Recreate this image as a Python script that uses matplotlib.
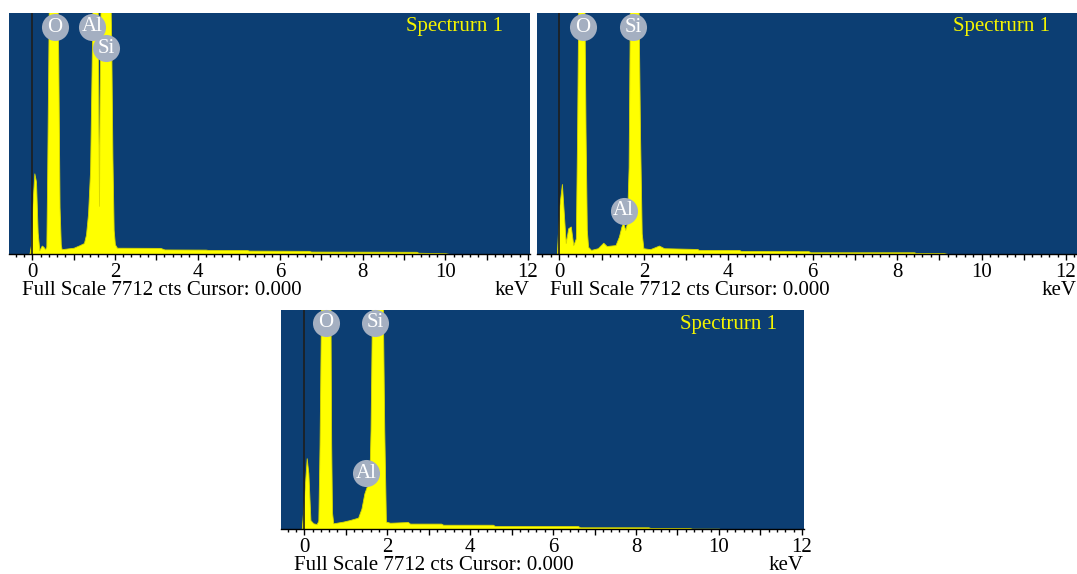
import matplotlib
matplotlib.use('Agg')
import matplotlib.pyplot as plt
from matplotlib.ticker import MultipleLocator, FuncFormatter

plt.rcParams['font.family'] = ['Liberation Serif', 'DejaVu Serif']

FULL_SCALE = 7712

# spectrum 1 (top left): energy (keV) and counts
e1 = [-0.07, -0.03, 0.0, 0.05, 0.09, 0.13, 0.17, 0.23, 0.27, 0.31, 0.34, 0.36, 0.40, 0.44, 0.52,
      0.60, 0.63, 0.66, 0.69, 0.71, 1.0, 1.15, 1.25, 1.30, 1.35, 1.40, 1.43, 1.46, 1.50, 1.58,
      1.60, 1.615, 1.63, 1.66, 1.75, 1.88, 1.91, 1.94, 1.97, 2.0, 2.05, 2.15, 3.1, 3.2, 4.2,
      4.25, 5.2, 5.25, 6.7, 6.75, 9.3, 9.35, 10.0, 10.1, 12.05]
c1 = [0, 300, 1500, 2580, 2310, 690, 120, 270, 230, 150, 230, 2500, 8000, 9500, 11000,
      9500, 6000, 1500, 300, 155, 200, 285, 350, 620, 1300, 2700, 5400, 8100, 9000, 8500,
      4000, 1540, 5000, 9000, 12000, 9000, 6900, 3100, 770, 310, 200, 200, 195, 145, 140,
      130, 125, 108, 100, 77, 70, 40, 25, 0, 0]

# spectrum 2 (top right)
e2 = [-0.06, 0.0, 0.06, 0.11, 0.15, 0.21, 0.27, 0.33, 0.39, 0.42, 0.45, 0.52, 0.59, 0.62, 0.65,
      0.68, 0.75, 0.91, 1.04, 1.12, 1.33, 1.41, 1.47, 1.51, 1.56, 1.60, 1.64, 1.67, 1.76, 1.87,
      1.91, 1.95, 1.99, 2.15, 2.36, 2.48, 3.27, 3.3, 4.26, 4.3, 5.9, 5.95, 8.4, 8.45, 9.1,
      9.2, 12.3]
c2 = [0, 1540, 2240, 1200, 350, 825, 880, 285, 500, 3900, 8500, 11000, 8500, 3900, 770,
      230, 130, 185, 360, 255, 285, 555, 880, 1000, 770, 980, 2780, 8000, 12000, 8500,
      3860, 660, 185, 155, 270, 185, 160, 130, 130, 95, 90, 55, 55, 30, 30,
      0, 0]

# spectrum 3 (bottom)
e3 = [-0.06, -0.02, 0.06, 0.10, 0.15, 0.22, 0.30, 0.34, 0.37, 0.41, 0.52, 0.63, 0.65, 0.67, 0.70,
      0.94, 1.10, 1.30, 1.38, 1.45, 1.50, 1.57, 1.60, 1.64, 1.76, 1.89, 1.93, 1.97, 2.07, 2.5,
      2.55, 3.3, 3.35, 4.55, 4.6, 6.6, 6.65, 8.3, 8.35, 9.3, 9.35, 10.0, 10.05, 12.04]
c3 = [0, 770, 2500, 1970, 320, 210, 185, 300, 3000, 8500, 11000, 8500, 3000, 600, 210,
      270, 325, 410, 730, 1260, 1470, 1700, 3500, 8500, 12000, 8500, 3500, 270, 230, 255,
      200, 200, 160, 160, 115, 115, 70, 70, 46, 46, 23, 23, 0, 0]

# element markers: (label, keV, fraction of full scale)
peaks1 = [('O', 0.55, 0.94), ('Al', 1.45, 0.943), ('Si', 1.78, 0.853)]
peaks2 = [('O', 0.56, 0.94), ('Si', 1.74, 0.94), ('Al', 1.52, 0.18)]
peaks3 = [('O', 0.52, 0.942), ('Si', 1.71, 0.942), ('Al', 1.50, 0.255)]

BG = '#0c3e73'
YEL = '#ffff00'
W, H = 1077, 574

fig = plt.figure(figsize=(W / 100, H / 100), dpi=100)
fig.patch.set_facecolor('white')


def panel(box, xlim, e, c, peaks):
    l, r, t, b = box
    ax = fig.add_axes([l / W, 1 - b / H, (r - l) / W, (b - t) / H])
    ax.set_facecolor(BG)
    ax.fill_between(e, c, 0, color=YEL, lw=0.6, edgecolor='#d8d800')
    ax.axvline(0, color='#1e1e1e', lw=1.2)
    ax.set_xlim(*xlim)
    ax.set_ylim(0, FULL_SCALE)
    for s in ['left', 'right', 'top']:
        ax.spines[s].set_visible(False)
    ax.spines['bottom'].set_color('black')
    ax.spines['bottom'].set_linewidth(1)
    ax.set_yticks([])
    ax.xaxis.set_major_locator(MultipleLocator(1))
    ax.xaxis.set_minor_locator(MultipleLocator(0.2))
    ax.xaxis.set_major_formatter(FuncFormatter(lambda v, p: '%d' % v if round(v) % 2 == 0 else ''))
    ax.tick_params(axis='x', which='major', length=4, width=1, pad=2.5, labelsize=15, direction='out')
    ax.tick_params(axis='x', which='minor', length=2.2, width=1, direction='out')

    for name, x, f in peaks:
        ax.scatter([x], [f * FULL_SCALE], s=380, color='#a4afc1', zorder=5, clip_on=False, linewidths=0)
        ax.text(x, f * FULL_SCALE, name, color='white', fontsize=15, ha='center', va='center',
                zorder=6)

    ax.annotate('Spectrurn 1', xy=(1, 1), xycoords='axes fraction', xytext=(-27 * 0.72, -14 * 0.72),
                textcoords='offset points', ha='right', va='center', color='#f5f500', fontsize=15)
    ax.annotate('Full Scale 7712 cts Cursor: 0.000', xy=(0, 0), xycoords='axes fraction',
                xytext=(13 * 0.72, -41 * 0.72), textcoords='offset points',
                ha='left', va='baseline', fontsize=15, annotation_clip=False)
    ax.annotate('keV', xy=(1, 0), xycoords='axes fraction', xytext=(0, -41 * 0.72),
                textcoords='offset points', ha='right', va='baseline', fontsize=15,
                annotation_clip=False)
    return ax


panel((9, 530, 13, 254), (-0.564, 12.05), e1, c1, peaks1)
panel((537, 1077, 13, 254), (-0.53, 12.26), e2, c2, peaks2)
panel((281, 803.5, 310, 529.3), (-0.56, 12.04), e3, c3, peaks3)

fig.savefig('out.png', dpi=100, facecolor='white')
